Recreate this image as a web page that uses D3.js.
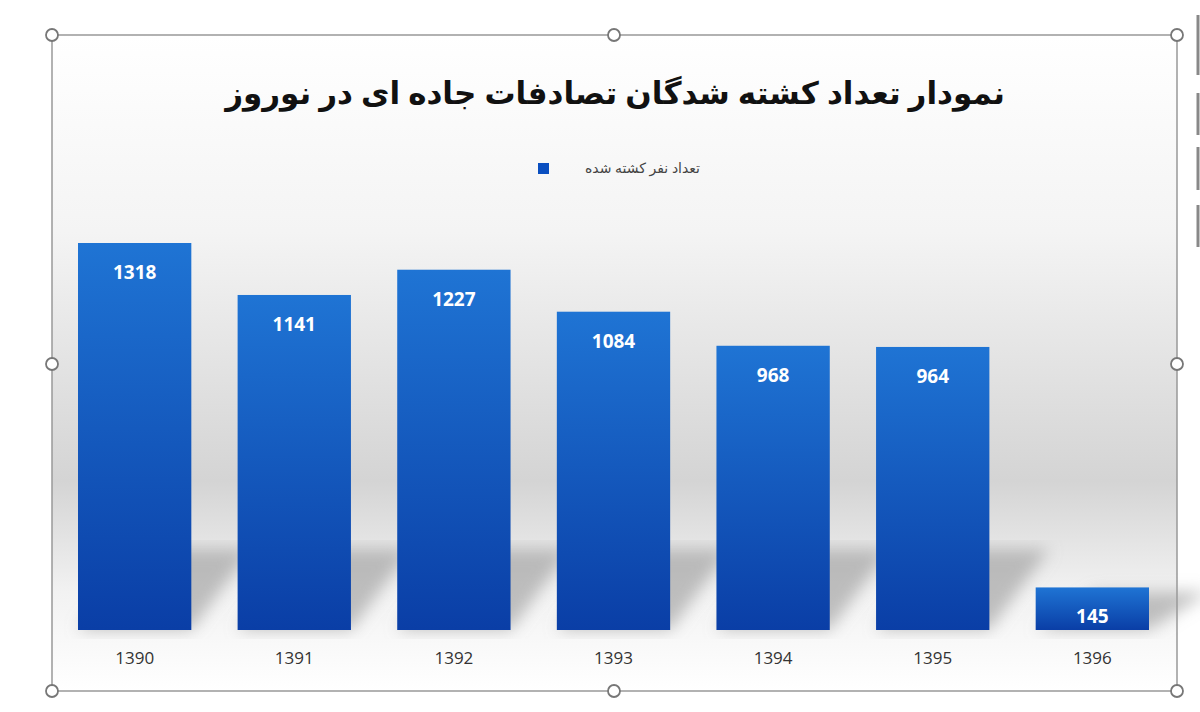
<!DOCTYPE html>
<html lang="fa">
<head>
<meta charset="utf-8">
<script src="https://d3js.org/d3.v7.min.js"></script>
<style>body{margin:0;background:#fff;}</style>
</head>
<body>
<script>
const years = ["1390","1391","1392","1393","1394","1395","1396"]
const killed = [1318, 1141, 1227, 1084, 968, 964, 145]
const title = "نمودار تعداد کشته شدگان تصادفات جاده ای در نوروز"
const legendLabel = "تعداد نفر کشته شده"

const W = 1200, H = 712
const svg = d3.select("body").append("svg").attr("width", W).attr("height", H)
const defs = svg.append("defs")

const bg = defs.append("linearGradient").attr("id", "bg").attr("x1", 0).attr("x2", 0).attr("y1", 0).attr("y2", 1)
bg.append("stop").attr("offset", "0").attr("stop-color", "#ffffff")
bg.append("stop").attr("offset", "0.3").attr("stop-color", "#f4f4f4")
bg.append("stop").attr("offset", "0.68").attr("stop-color", "#d4d4d4")
bg.append("stop").attr("offset", "0.85").attr("stop-color", "#f2f2f2")
bg.append("stop").attr("offset", "1").attr("stop-color", "#ffffff")

const barG = defs.append("linearGradient").attr("id", "bar").attr("x1", 0).attr("x2", 0).attr("y1", 0).attr("y2", 1)
barG.append("stop").attr("offset", "0").attr("stop-color", "#1f74d4")
barG.append("stop").attr("offset", "1").attr("stop-color", "#0a3ea6")

defs.append("filter").attr("id", "blur").append("feGaussianBlur").attr("stdDeviation", 8)

// frame
svg.append("rect").attr("x", 52).attr("y", 35).attr("width", 1125).attr("height", 656)
  .attr("fill", "url(#bg)").attr("stroke", "#999").attr("stroke-width", 1.5)

const x = d3.scaleBand().domain(years).range([78, 1149]).paddingInner(0.29).paddingOuter(0.0)
const y = d3.scaleLinear().domain([0, 1318]).range([630, 243])

// soft shadows
svg.append("g").attr("filter", "url(#blur)").selectAll("path").data(killed).join("path")
  .attr("d", (d, i) => {
    const x0 = x(years[i]), w = x.bandwidth(), h = Math.min(630 - y(d), 90)
    return `M${x0},630 L${x0 + w},630 L${x0 + w + 60},${630 - h * 0.9} L${x0 + 60},${630 - h * 0.9} Z`
  })
  .attr("fill", "#9a9a9a").attr("opacity", 0.6)

svg.append("g").selectAll("rect").data(killed).join("rect")
  .attr("x", (d, i) => x(years[i])).attr("width", x.bandwidth())
  .attr("y", d => y(d)).attr("height", d => 630 - y(d))
  .attr("fill", "url(#bar)")

svg.append("g").selectAll("text").data(killed).join("text")
  .attr("x", (d, i) => x(years[i]) + x.bandwidth() / 2).attr("y", d => y(d) + 36)
  .attr("text-anchor", "middle").attr("fill", "#fff")
  .attr("font-family", "Open Sans, sans-serif").attr("font-weight", "bold").attr("font-size", 19)
  .text(d => d)

const xAxis = svg.append("g").attr("transform", "translate(0,630)")
  .call(d3.axisBottom(x).tickSize(0).tickPadding(22))
xAxis.select(".domain").remove()
xAxis.selectAll("text").attr("font-family", "Open Sans, sans-serif").attr("font-size", 17).attr("fill", "#333")

svg.append("text").attr("x", 615).attr("y", 104).attr("text-anchor", "middle")
  .attr("font-family", "Noto Sans, DejaVu Sans, sans-serif").attr("font-weight", "bold")
  .attr("font-size", 31).attr("direction", "rtl").attr("fill", "#111").text(title)

svg.append("rect").attr("x", 538).attr("y", 163).attr("width", 11).attr("height", 11).attr("fill", "#0a4fc0")
svg.append("text").attr("x", 700).attr("y", 173).attr("text-anchor", "start").attr("direction", "rtl")
  .attr("font-family", "Noto Sans, DejaVu Sans, sans-serif").attr("font-size", 14).attr("fill", "#444")
  .text(legendLabel)

// selection handles
const handles = [[52,35],[614,35],[1177,35],[52,364],[1177,364],[52,691],[614,691],[1177,691]]
svg.append("g").selectAll("circle").data(handles).join("circle")
  .attr("cx", d => d[0]).attr("cy", d => d[1]).attr("r", 6)
  .attr("fill", "#fff").attr("stroke", "#777").attr("stroke-width", 1.8)

// side marks
svg.append("g").selectAll("line").data([[15,75],[93,135],[147,190],[205,247]]).join("line")
  .attr("x1", 1198).attr("x2", 1198).attr("y1", d => d[0]).attr("y2", d => d[1])
  .attr("stroke", "#888").attr("stroke-width", 3)
</script>
</body>
</html>
